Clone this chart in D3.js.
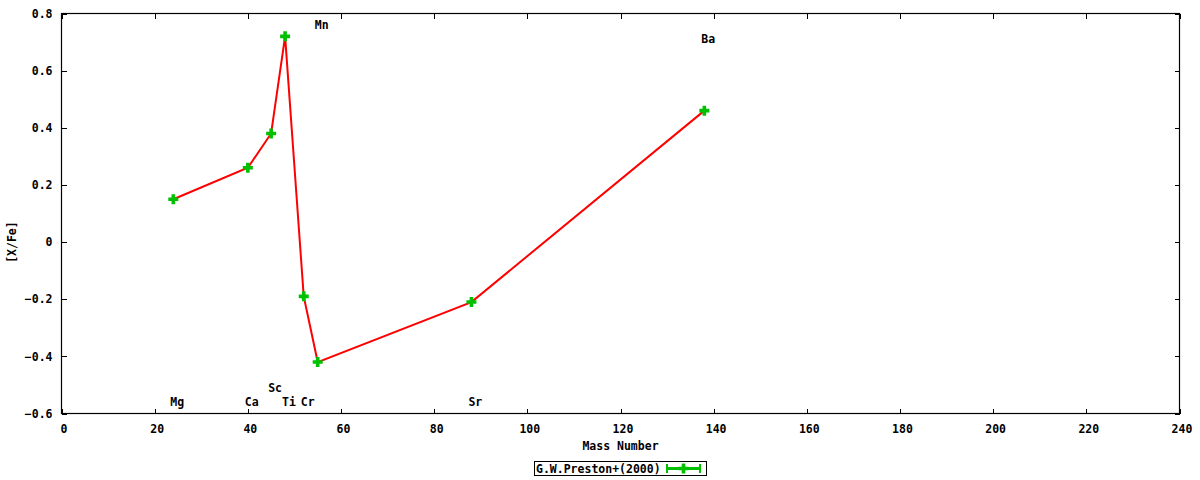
<!DOCTYPE html>
<html>
<head>
<meta charset="utf-8">
<script src="https://cdn.jsdelivr.net/npm/d3@7"></script>
<style>
  body { margin: 0; background: #fff; }
  text { font-family: "DejaVu Sans Mono", monospace; font-weight: bold; font-size: 11.5px; fill: #000; }
</style>
</head>
<body>
<div id="chart"></div>
<script>
// measured abundances (G.W.Preston+ 2000)
const massNumbers = [24, 40, 45, 48, 52, 55, 88, 138];
const xFe = [0.15, 0.26, 0.38, 0.72, -0.19, -0.42, -0.21, 0.46];

// element labels placed in data coordinates
const labelNames = ['Mg', 'Ca', 'Sc', 'Ti', 'Cr', 'Mn', 'Sr', 'Ba'];
const labelMass = [24, 40, 45, 48, 52, 55, 88, 138];
const labelVal = [-0.56, -0.56, -0.51, -0.56, -0.56, 0.76, -0.56, 0.71];

const xTicks = [0, 20, 40, 60, 80, 100, 120, 140, 160, 180, 200, 220, 240];
const yTicks = [-0.6, -0.4, -0.2, 0, 0.2, 0.4, 0.6, 0.8];
const seriesName = 'G.W.Preston+(2000)';

const W = 1200, H = 480;
const margin = {left: 61.5, right: 20.5, top: 13.5, bottom: 66.5};
const lineColor = '#ff0000', pointColor = '#00c000';

const svg = d3.select('#chart')
    .append('svg')
    .attr('width', W)
    .attr('height', H);

const x = d3.scaleLinear()
    .domain([0, 240])
    .range([margin.left, W - margin.right]);

const y = d3.scaleLinear()
    .domain([-0.6, 0.8])
    .range([H - margin.bottom, margin.top]);

const fmt = d => d === 0 ? '0' : d3.format('.1f')(d);

// ticks point inward on every side, like gnuplot
const axBottom = svg.append('g')
    .attr('transform', 'translate(0,' + y(-0.6) + ')')
    .call(d3.axisBottom(x).tickValues(xTicks).tickSize(-5).tickPadding(11).tickFormat(d3.format('d')));
const axTop = svg.append('g')
    .attr('transform', 'translate(0,' + y(0.8) + ')')
    .call(d3.axisTop(x).tickValues(xTicks).tickSize(-5).tickFormat(''));
const axLeft = svg.append('g')
    .attr('transform', 'translate(' + x(0) + ',0)')
    .call(d3.axisLeft(y).tickValues(yTicks).tickSize(-5).tickPadding(9).tickFormat(fmt));
const axRight = svg.append('g')
    .attr('transform', 'translate(' + x(240) + ',0)')
    .call(d3.axisRight(y).tickValues(yTicks).tickSize(-5).tickFormat(''));

[axBottom, axTop, axLeft, axRight].forEach(g => {
    g.select('.domain').remove();
    g.selectAll('line').attr('stroke', '#000').attr('shape-rendering', 'crispEdges');
    g.selectAll('text').attr('font-family', null).attr('font-size', null).attr('fill', null);
});
axBottom.selectAll('text').attr('dx', '2');

svg.append('rect')
    .attr('x', x(0))
    .attr('y', y(0.8))
    .attr('width', x(240) - x(0))
    .attr('height', y(-0.6) - y(0.8))
    .attr('fill', 'none')
    .attr('stroke', '#000')
    .attr('stroke-width', 1.2);

// axis titles
svg.append('text')
    .attr('x', (x(0) + x(240)) / 2)
    .attr('y', 450)
    .attr('text-anchor', 'middle')
    .text('Mass Number');

svg.append('text')
    .attr('transform', 'translate(16,' + y(0) + ') rotate(-90)')
    .attr('text-anchor', 'middle')
    .text('[X/Fe]');

const data = massNumbers.map((m, i) => ({m: m, v: xFe[i]}));

const line = d3.line()
    .x(d => x(d.m))
    .y(d => y(d.v));

svg.append('path')
    .datum(data)
    .attr('d', line)
    .attr('fill', 'none')
    .attr('stroke', lineColor)
    .attr('stroke-width', 2);

const plusPath = 'M-1.8,-5V-1.8H-5V1.8H-1.8V5H1.8V1.8H5V-1.8H1.8V-5Z';

svg.selectAll('.pt')
    .data(data)
    .enter()
    .append('path')
    .attr('class', 'pt')
    .attr('transform', d => 'translate(' + x(d.m) + ',' + y(d.v) + ')')
    .attr('d', plusPath)
    .attr('fill', pointColor);

// element labels
svg.selectAll('.el')
    .data(labelNames)
    .enter()
    .append('text')
    .attr('class', 'el')
    .attr('x', (d, i) => x(labelMass[i]) - 3)
    .attr('y', (d, i) => y(labelVal[i]))
    .attr('dy', '0.35em')
    .attr('text-anchor', 'start')
    .text(d => d);

// legend
const leg = svg.append('g');
leg.append('rect')
    .attr('x', 534.5)
    .attr('y', 461.5)
    .attr('width', 172)
    .attr('height', 14)
    .attr('fill', '#fff')
    .attr('stroke', '#000');
leg.append('text')
    .attr('x', 536)
    .attr('y', 469)
    .attr('dy', '0.35em')
    .text(seriesName);
leg.append('line')
    .attr('x1', 666).attr('x2', 701)
    .attr('y1', 468.5).attr('y2', 468.5)
    .attr('stroke', pointColor).attr('stroke-width', 3);
[667, 700].forEach(cx => {
    leg.append('line')
        .attr('x1', cx).attr('x2', cx)
        .attr('y1', 464).attr('y2', 473)
        .attr('stroke', pointColor).attr('stroke-width', 2);
});
leg.append('path')
    .attr('transform', 'translate(683.5,468.5)')
    .attr('d', plusPath)
    .attr('fill', pointColor);
</script>
</body>
</html>
